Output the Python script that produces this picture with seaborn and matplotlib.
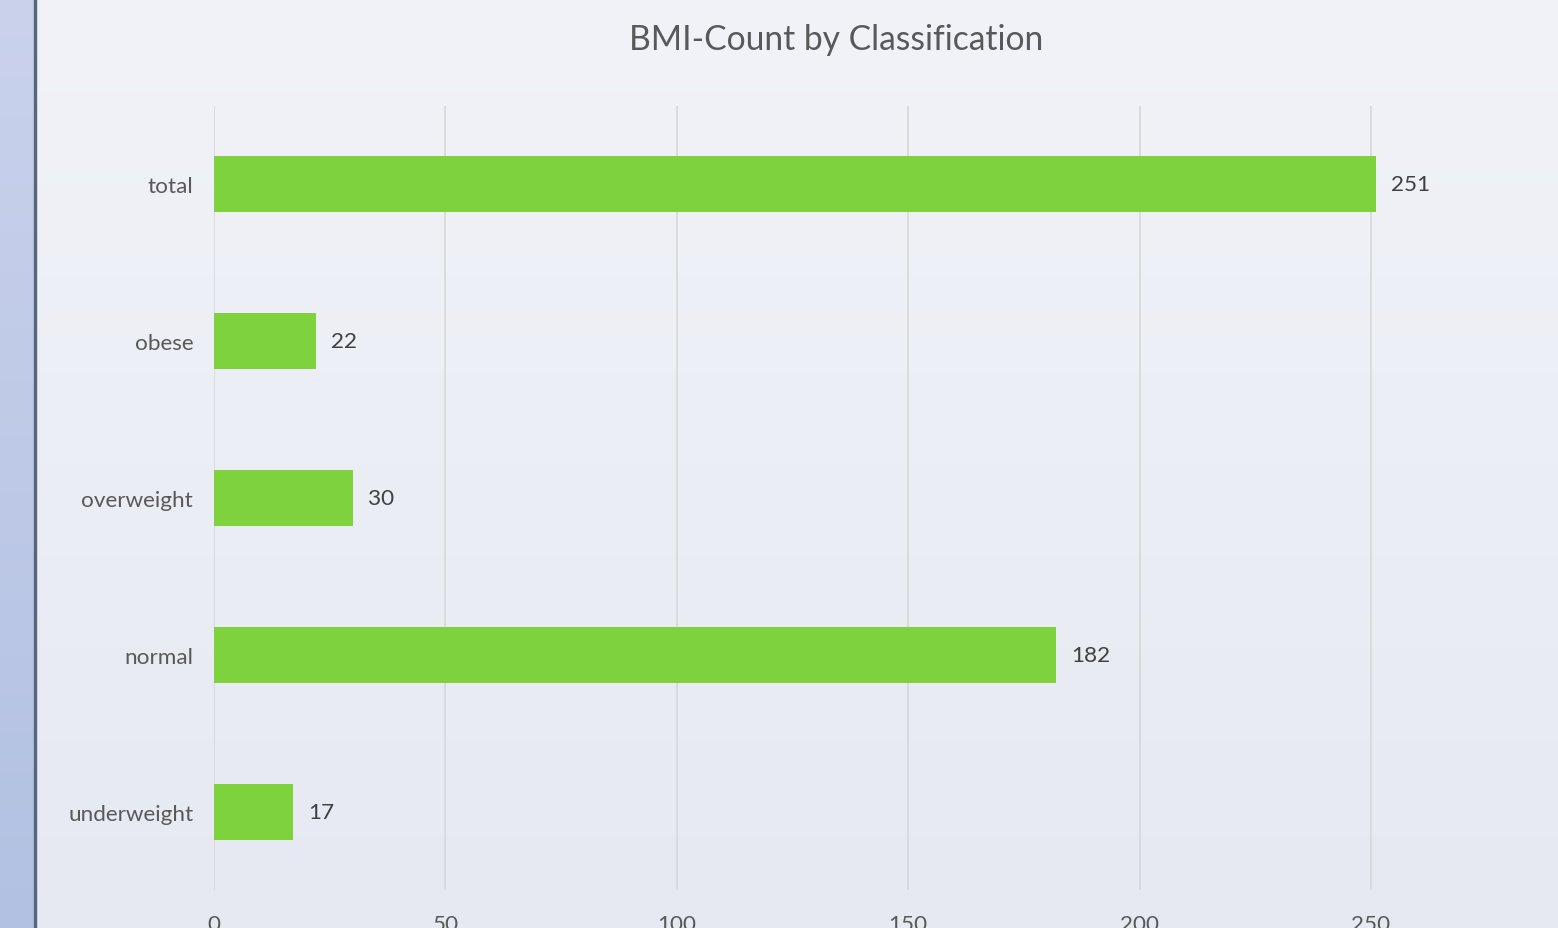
import numpy as np
import pandas as pd
import matplotlib
matplotlib.use("Agg")
import matplotlib.pyplot as plt
import seaborn as sns

categories = ["total", "obese", "overweight", "normal", "underweight"]
counts = [251, 22, 30, 182, 17]
x_ticks = [0, 50, 100, 150, 200, 250]
title = "BMI-Count by Classification"

df = pd.DataFrame({"category": categories, "count": counts})

sns.set_theme(style="white")
plt.rcParams["font.family"] = ["Lato", "DejaVu Sans"]

W, H = 1558, 929
fig = plt.figure(figsize=(W / 100, H / 100), dpi=100)

# background gradient
bg = fig.add_axes([0, 0, 1, 1], zorder=-10)
bg.axis("off")
t = np.linspace(0, 1, 929)[:, None]
top = np.array([241, 243, 248]) / 255
bot = np.array([230, 233, 242]) / 255
img = (top[None, None, :] * (1 - t[..., None]) + bot[None, None, :] * t[..., None])
img = np.repeat(img, 4, axis=1)
bg.imshow(img, extent=[0, W, 0, H], aspect="auto", origin="upper", interpolation="bilinear")
stop = np.array([202, 210, 236]) / 255
sbot = np.array([178, 193, 226]) / 255
simg = (stop[None, None, :] * (1 - t[..., None]) + sbot[None, None, :] * t[..., None])
simg = np.repeat(simg, 4, axis=1)
bg.imshow(simg, extent=[0, 34, 0, H], aspect="auto", origin="upper", interpolation="bilinear")
bg.axvspan(34, 36.5, color="#56667f")
bg.set_xlim(0, W)
bg.set_ylim(0, H)

ax = fig.add_axes([214 / W, 38 / H, (W - 214) / W, 784 / H])
ax.patch.set_alpha(0)
sns.barplot(data=df, x="count", y="category", order=categories, color="#7ed23d",
            width=0.357, saturation=1, linewidth=0, ax=ax, zorder=3)
ax.set_xlim(0, (W - 214) / 4.628)
ax.set_ylim(4.5, -0.5)
ax.set_xticks(x_ticks)
ax.grid(axis="x", color="#d9d9d9", linewidth=1.3, zorder=0)
ax.set_axisbelow(True)
for s in ax.spines.values():
    s.set_visible(False)
ax.set_xlabel("")
ax.set_ylabel("")
ax.tick_params(axis="y", length=0, pad=15, labelsize=16.2, labelcolor="#595959")
ax.tick_params(axis="x", length=0, pad=17, labelsize=16.2, labelcolor="#595959")

for cont in ax.containers:
    ax.bar_label(cont, labels=[str(v) for v in counts], padding=11,
                 fontsize=16.2, color="#404040")

fig.text(836 / W, 1 - 40 / H, title, ha="center", va="center",
         fontsize=24.2, color="#595959")

fig.savefig("out.png", dpi=100)
